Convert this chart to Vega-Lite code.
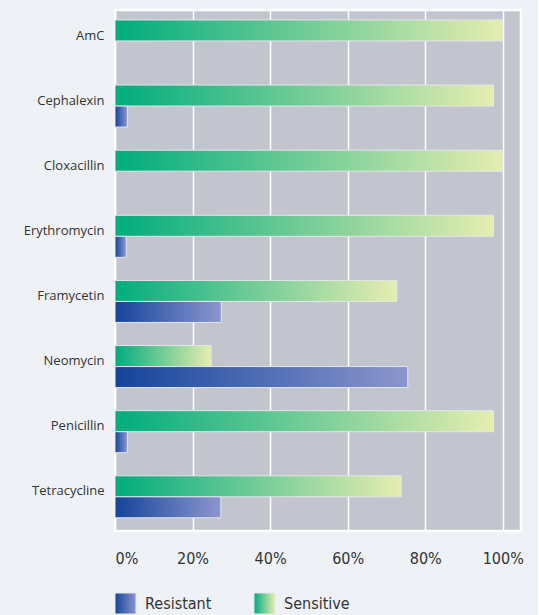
{
  "$schema": "https://vega.github.io/schema/vega-lite/v6.json",
  "padding": {"left": 21, "top": 8, "right": 13, "bottom": 0},
  "background": "#eef2f6",
  "spacing": 24,
  "config": {"font": "Open Sans", "view": {"stroke": null}},
  "vconcat": [
    {
      "width": 406,
      "height": 521,
      "view": {"fill": "#c3c5ce", "stroke": "#ffffff", "strokeWidth": 2.5},
      "data": {
        "values": [
          {"drug": "AmC", "type": "Sensitive", "pct": 100},
          {"drug": "AmC", "type": "Resistant", "pct": 0},
          {"drug": "Cephalexin", "type": "Sensitive", "pct": 97.6},
          {"drug": "Cephalexin", "type": "Resistant", "pct": 3.2},
          {"drug": "Cloxacillin", "type": "Sensitive", "pct": 100},
          {"drug": "Cloxacillin", "type": "Resistant", "pct": 0},
          {"drug": "Erythromycin", "type": "Sensitive", "pct": 97.6},
          {"drug": "Erythromycin", "type": "Resistant", "pct": 2.9},
          {"drug": "Framycetin", "type": "Sensitive", "pct": 72.7},
          {"drug": "Framycetin", "type": "Resistant", "pct": 27.4},
          {"drug": "Neomycin", "type": "Sensitive", "pct": 24.8},
          {"drug": "Neomycin", "type": "Resistant", "pct": 75.5},
          {"drug": "Penicillin", "type": "Sensitive", "pct": 97.6},
          {"drug": "Penicillin", "type": "Resistant", "pct": 3.2},
          {"drug": "Tetracycline", "type": "Sensitive", "pct": 73.8},
          {"drug": "Tetracycline", "type": "Resistant", "pct": 27.3}
        ]
      },
      "transform": [{"filter": "datum.pct > 0"}],
      "encoding": {
        "y": {
          "field": "drug", "type": "nominal", "sort": null,
          "scale": {"paddingInner": 0, "paddingOuter": 0},
          "axis": {"title": null, "domain": false, "ticks": false, "labelPadding": 11, "labelFont": "Open Sans", "labelFontSize": 13, "labelColor": "#333333", "labelOffset": -7}
        },
        "yOffset": {
          "field": "type", "type": "nominal", "sort": ["Sensitive", "Resistant"],
          "scale": {"paddingInner": 0, "paddingOuter": 0.55, "align": 0.43}
        },
        "x": {
          "field": "pct", "type": "quantitative",
          "scale": {"domain": [0, 104.7], "nice": false, "zero": true},
          "axis": {"title": null, "values": [0, 20, 40, 60, 80, 100], "labelExpr": "datum.value + '%'", "domain": false, "ticks": false, "labelPadding": 19, "labelFont": "DejaVu Sans Condensed", "labelFontSize": 16, "labelColor": "#333333", "labelFlush": true, "grid": true, "gridColor": "#ffffff", "gridWidth": 1.5, "gridOpacity": 1}
        }
      },
      "layer": [
        {
          "transform": [{"filter": "datum.type === 'Sensitive'"}],
          "mark": {
            "type": "bar", "stroke": "#e3e6ec", "strokeWidth": 1,
            "fill": {"gradient": "linear", "x1": 0, "y1": 0, "x2": 1, "y2": 0, "stops": [{"offset": 0, "color": "#00ac7d"}, {"offset": 1, "color": "#e6edb0"}]}
          }
        },
        {
          "transform": [{"filter": "datum.type === 'Resistant'"}],
          "mark": {
            "type": "bar", "stroke": "#e3e6ec", "strokeWidth": 1,
            "fill": {"gradient": "linear", "x1": 0, "y1": 0, "x2": 1, "y2": 0, "stops": [{"offset": 0, "color": "#14449b"}, {"offset": 1, "color": "#8c96cd"}]}
          }
        }
      ]
    },
    {
      "width": 160,
      "height": 21,
      "view": {"fill": null, "stroke": null},
      "data": {"values": [{"type": "Resistant"}, {"type": "Sensitive"}]},
      "encoding": {
        "x": {"field": "type", "type": "nominal", "sort": ["Resistant", "Sensitive"], "axis": null, "scale": {"paddingInner": 0.849, "paddingOuter": 0, "align": 0}}
      },
      "layer": [
        {
          "transform": [{"filter": "datum.type === 'Resistant'"}],
          "mark": {
            "type": "bar", "stroke": "#e3e6ec", "strokeWidth": 1,
            "fill": {"gradient": "linear", "x1": 0, "y1": 0, "x2": 1, "y2": 0, "stops": [{"offset": 0, "color": "#14449b"}, {"offset": 1, "color": "#8c96cd"}]}
          }
        },
        {
          "transform": [{"filter": "datum.type === 'Sensitive'"}],
          "mark": {
            "type": "bar", "stroke": "#e3e6ec", "strokeWidth": 1,
            "fill": {"gradient": "linear", "x1": 0, "y1": 0, "x2": 1, "y2": 0, "stops": [{"offset": 0, "color": "#00ac7d"}, {"offset": 1, "color": "#e6edb0"}]}
          }
        },
        {
          "mark": {"type": "text", "align": "left", "baseline": "middle", "dx": 9, "font": "DejaVu Sans Condensed", "fontSize": 16, "color": "#333333"},
          "encoding": {
            "x": {"field": "type", "type": "nominal", "sort": ["Resistant", "Sensitive"], "bandPosition": 1},
            "text": {"field": "type"}
          }
        }
      ]
    }
  ]
}
